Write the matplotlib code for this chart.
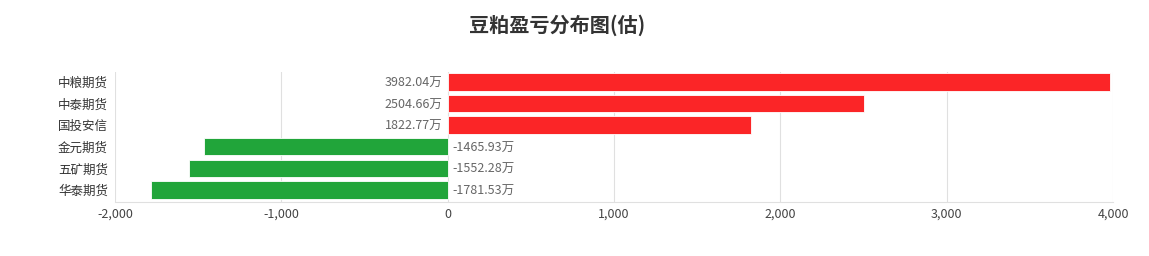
import matplotlib
matplotlib.use("Agg")
import matplotlib.pyplot as plt
from matplotlib.ticker import FuncFormatter

plt.rcParams['font.family'] = ['Noto Sans CJK SC', 'DejaVu Sans']

#data, top to bottom
companies = ["中粮期货", "中泰期货", "国投安信", "金元期货", "五矿期货", "华泰期货"]
pnl = [3982.04, 2504.66, 1822.77, -1465.93, -1552.28, -1781.53]
x_ticks = [-2000, -1000, 0, 1000, 2000, 3000, 4000]

fig = plt.figure(figsize=(11.49, 2.56), dpi=100)
ax = fig.add_axes([115 / 1149, 1 - 202 / 256, 998 / 1149, 130 / 256])

ypos = list(range(len(companies)))
colors = ['#fb2527' if v > 0 else '#21a53a' for v in pnl]
ax.barh(ypos, pnl, height=0.8, color=colors, edgecolor='white', linewidth=0.6, zorder=3)

#value labels on the other side of zero
for y, v in zip(ypos, pnl):
    if v > 0:
        ax.text(-30, y, f"{v:.2f}万", ha='right', va='center_baseline', fontsize=9, color='#666666')
    else:
        ax.text(30, y, f"{v:.2f}万", ha='left', va='center_baseline', fontsize=9, color='#666666')

ax.set_xlim(-2000, 4000)
ax.set_ylim(len(companies) - 0.44, -0.46)
ax.set_xticks(x_ticks)
ax.xaxis.set_major_formatter(FuncFormatter(lambda v, p: f"{int(v):,}"))
ax.set_yticks(ypos)
ax.set_yticklabels(companies)

ax.grid(axis='x', color='#e0e0e0', linewidth=0.8, zorder=0)
ax.tick_params(axis='both', length=0, labelsize=9, colors='#333333')
ax.tick_params(axis='x', pad=4, colors='#444444')
ax.tick_params(axis='y', pad=5)
for side in ['top', 'right', 'left']:
    ax.spines[side].set_visible(False)
ax.spines['bottom'].set_color('#e0e0e0')

fig.text(557 / 1149, 1 - 25 / 256, "豆粕盈亏分布图(估)", ha='center', va='center',
         fontsize=14.5, fontweight='bold', color='#333333')

fig.savefig("out.png", dpi=100, facecolor='white')
